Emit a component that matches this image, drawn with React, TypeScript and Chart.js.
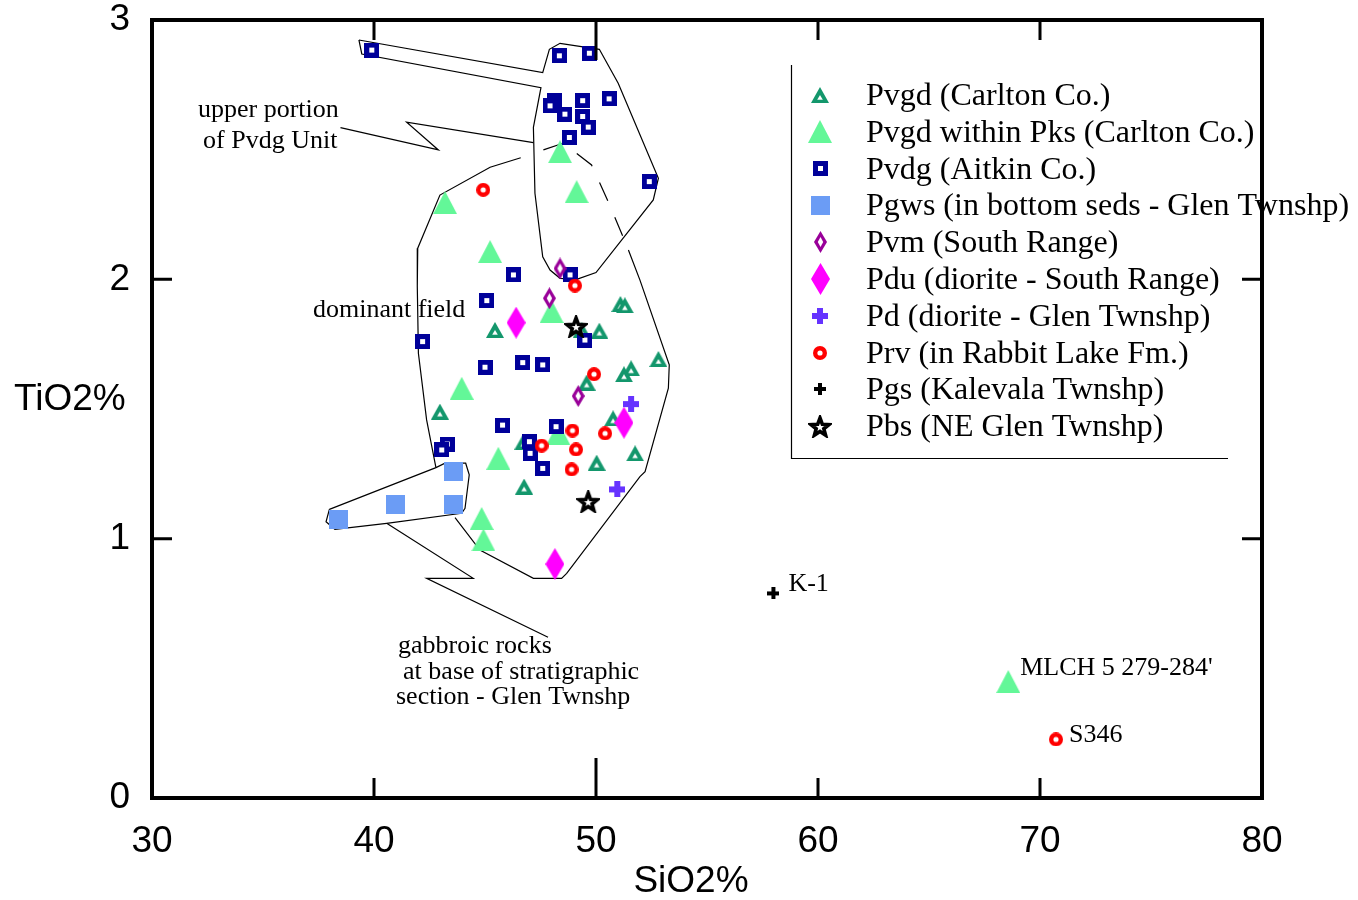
import React, { useEffect, useRef } from 'react';
import { Chart, registerables } from 'chart.js';
Chart.register(...registerables);

// ---------- data ----------
const X_TICKS = [30, 40, 50, 60, 70, 80];
const Y_TICKS = [0, 1, 2, 3];

const pvgdCarlton: [number, number][] = [
  [51.1, 1.905], [51.3, 1.9], [45.45, 1.805], [50.15, 1.802], [49.35, 1.805], [52.81, 1.693],
  [51.58, 1.657], [51.26, 1.634], [49.58, 1.602], [42.97, 1.49], [50.77, 1.464], [46.73, 1.374],
  [51.76, 1.329], [50.03, 1.293], [46.76, 1.201],
];
const pvgdPks: [number, number][] = [
  [48.38, 2.492], [49.13, 2.338], [43.2, 2.296], [45.23, 2.107], [48.0, 1.876], [43.95, 1.58],
  [48.3, 1.406], [45.6, 1.31], [44.85, 1.078], [44.93, 0.995], [68.57, 0.449],
];
const pvdg: [number, number][] = [
  [39.9, 2.884], [48.35, 2.862], [49.7, 2.872], [48.15, 2.688], [47.93, 2.669], [49.4, 2.689],
  [50.59, 2.696], [48.6, 2.637], [49.4, 2.628], [49.65, 2.587], [48.8, 2.547], [52.4, 2.377],
  [46.28, 2.017], [48.83, 2.017], [45.08, 1.918], [42.19, 1.76], [49.5, 1.766], [45.0, 1.661],
  [46.7, 1.679], [47.6, 1.67], [45.79, 1.438], [48.2, 1.432], [47.0, 1.374], [43.3, 1.365],
  [43.05, 1.342], [47.03, 1.329], [47.6, 1.271],
];
const pgws: [number, number][] = [[38.39, 1.072], [40.99, 1.13], [43.57, 1.258], [43.57, 1.13]];
const pvm: [number, number][] = [[48.38, 2.042], [47.9, 1.927], [49.2, 1.55]];
const pdu: [number, number][] = [[46.4, 1.833], [51.26, 1.447], [48.15, 0.902]];
const pd: [number, number][] = [[51.58, 1.519], [50.96, 1.19]];
const prv: [number, number][] = [
  [44.92, 2.345], [49.05, 1.976], [49.91, 1.634], [47.55, 1.359], [48.94, 1.417], [50.41, 1.406],
  [49.1, 1.344], [48.9, 1.267], [70.72, 0.226],
];
const pgs: [number, number][] = [[57.99, 0.789]];
const pbs: [number, number][] = [[49.1, 1.818], [49.65, 1.143]];

const SERIES_NAMES = [
  'Pvgd (Carlton Co.)',
  'Pvgd within Pks (Carlton Co.)',
  'Pvdg (Aitkin Co.)',
  'Pgws (in bottom seds - Glen Twnshp)',
  'Pvm (South Range)',
  'Pdu (diorite - South Range)',
  'Pd (diorite - Glen Twnshp)',
  'Prv (in Rabbit Lake Fm.)',
  'Pgs (Kalevala Twnshp)',
  'Pbs (NE Glen Twnshp)',
];

// outline polygons (data coordinates)
const upperLobe: [number, number][] = [
  [39.32, 2.923], [47.6, 2.797], [47.9, 2.887], [48.38, 2.91], [50.15, 2.887], [51.0, 2.756],
  [52.81, 2.39], [52.58, 2.306], [50.0, 2.026], [49.13, 2.0], [48.38, 2.004], [47.93, 2.036],
  [47.6, 2.087], [47.25, 2.332], [47.18, 2.586], [47.52, 2.739], [39.45, 2.869], [39.32, 2.923],
];
const upperLeader: [number, number][] = [[38.49, 2.585], [42.9, 2.499], [41.47, 2.606], [47.18, 2.527]];
const dominantSolid: [number, number][] = [
  [46.61, 2.469], [45.23, 2.432], [42.97, 2.325], [41.97, 2.12], [41.95, 1.972], [42.0, 1.715],
  [42.37, 1.458], [42.79, 1.274],
];
const dominantSolid2: [number, number][] = [
  [43.65, 1.081], [44.77, 0.956], [47.18, 0.847], [48.45, 0.847], [48.68, 0.866], [51.98, 1.239],
  [52.21, 1.258], [53.26, 1.58], [53.3, 1.67], [51.98, 1.997], [51.46, 2.113],
];
const dominantDashed: [number, number][] = [
  [47.63, 2.499], [48.53, 2.525], [49.8, 2.441], [50.5, 2.309], [51.15, 2.178], [51.46, 2.113],
];
const pgwsBox: [number, number][] = [
  [37.99, 1.113], [37.84, 1.065], [38.24, 1.036], [40.57, 1.059], [43.95, 1.098], [44.1, 1.117],
  [44.29, 1.246], [44.13, 1.291], [43.2, 1.291], [42.79, 1.274], [37.99, 1.113],
];
const gabbroLeader: [number, number][] = [[40.57, 1.059], [44.47, 0.847], [42.37, 0.847], [47.84, 0.62]];

const NOTES: { text: string; x: number; y: number }[] = [
  { text: 'upper portion', x: 32.07, y: 2.625 },
  { text: 'of Pvdg Unit', x: 32.3, y: 2.507 },
  { text: 'dominant field', x: 37.25, y: 1.855 },
  { text: 'gabbroic rocks', x: 41.08, y: 0.559 },
  { text: 'at base of stratigraphic', x: 41.31, y: 0.459 },
  { text: 'section - Glen Twnshp', x: 40.99, y: 0.362 },
];
const POINT_LABELS: { text: string; x: number; y: number }[] = [
  { text: 'K-1', x: 57.99, y: 0.789 },
  { text: "MLCH 5 279-284'", x: 68.57, y: 0.449 },
  { text: 'S346', x: 70.72, y: 0.226 },
];

// ---------- markers ----------
function mk(w: number, h: number, draw: (g: CanvasRenderingContext2D) => void) {
  const c = document.createElement('canvas');
  c.width = w;
  c.height = h;
  const g = c.getContext('2d')!;
  draw(g);
  return c;
}
function poly(g: CanvasRenderingContext2D, pts: number[][], color: string) {
  g.beginPath();
  pts.forEach((p, i) => (i ? g.lineTo(p[0], p[1]) : g.moveTo(p[0], p[1])));
  g.closePath();
  g.fillStyle = color;
  g.fill();
}
function makeMarkers() {
  const triSmall = mk(18, 16, (g) => {
    poly(g, [[9, 0], [18, 16], [0, 16]], '#13976c');
    poly(g, [[9, 8], [11.8, 12.8], [6.2, 12.8]], '#ffffff');
  });
  const triBig = mk(24, 23, (g) => poly(g, [[12, 0], [24, 23], [0, 23]], '#63f798'));
  const sqOpen = mk(15, 15, (g) => {
    g.fillStyle = '#000099';
    g.fillRect(0, 0, 15, 15);
    g.fillStyle = '#fff';
    g.fillRect(5, 5, 5, 5);
  });
  const sqFill = mk(19, 19, (g) => {
    g.fillStyle = '#6b9cf5';
    g.fillRect(0, 0, 19, 19);
  });
  const diaOpen = mk(13, 22, (g) => {
    poly(g, [[6.5, 0], [13, 11], [6.5, 22], [0, 11]], '#990099');
    poly(g, [[6.5, 6], [9.2, 11], [6.5, 16], [3.8, 11]], '#ffffff');
  });
  const diaFill = mk(19, 32, (g) => poly(g, [[9.5, 0], [19, 16], [9.5, 32], [0, 16]], '#ff00ff'));
  const plusV = mk(16, 16, (g) => {
    g.fillStyle = '#6633ff';
    g.fillRect(5, 0, 6, 16);
    g.fillRect(0, 5, 16, 6);
  });
  const circ = mk(14, 14, (g) => {
    g.beginPath();
    g.arc(7, 7, 7, 0, Math.PI * 2);
    g.fillStyle = '#ff0000';
    g.fill();
    g.beginPath();
    g.arc(7, 7, 2.6, 0, Math.PI * 2);
    g.fillStyle = '#fff';
    g.fill();
  });
  const plusK = mk(12, 12, (g) => {
    g.fillStyle = '#000';
    g.fillRect(4, 0, 4, 12);
    g.fillRect(0, 4, 12, 4);
  });
  const star = mk(24, 23, (g) => {
    const cx = 12, cy = 12.5, ro = 9.5, ri = 4;
    g.beginPath();
    for (let i = 0; i < 10; i++) {
      const r = i % 2 ? ri : ro;
      const a = -Math.PI / 2 + (i * Math.PI) / 5;
      const px = cx + r * Math.cos(a), py = cy + r * Math.sin(a);
      i ? g.lineTo(px, py) : g.moveTo(px, py);
    }
    g.closePath();
    g.fillStyle = '#fff';
    g.fill();
    g.lineWidth = 3.6;
    g.lineJoin = 'miter';
    g.strokeStyle = '#000';
    g.stroke();
  });
  return [triSmall, triBig, sqOpen, sqFill, diaOpen, diaFill, plusV, circ, plusK, star];
}

const toXY = (a: [number, number][]) => a.map(([x, y]) => ({ x, y }));

export default function App() {
  const ref = useRef<HTMLCanvasElement>(null);
  useEffect(() => {
    document.body.style.margin = '0';
    document.body.style.overflow = 'hidden';
    const markers = makeMarkers();
    const seriesData = [pvgdCarlton, pvgdPks, pvdg, pgws, pvm, pdu, pd, prv, pgs, pbs];
    const drawOrder = [9, 10, 7, 8, 6, 5, 4, 3, 2, 1];
    const markerSets: any[] = seriesData.map((d, i) => ({
      label: SERIES_NAMES[i],
      data: toXY(d),
      pointStyle: markers[i],
      pointRadius: 6,
      pointHoverRadius: 6,
      showLine: false,
      order: drawOrder[i],
    }));
    const lineSet = (d: [number, number][], dash: number[] = []) => ({
      data: toXY(d),
      showLine: true,
      pointRadius: 0,
      pointHoverRadius: 0,
      borderColor: '#000',
      borderWidth: 1.2,
      borderDash: dash,
      fill: false,
      tension: 0,
      order: 20,
    });
    const lineSets = [
      lineSet(upperLobe),
      lineSet(upperLeader),
      lineSet(dominantSolid),
      lineSet(dominantSolid2),
      lineSet(dominantDashed, [20, 18]),
      lineSet(pgwsBox),
      lineSet(gabbroLeader),
    ];

    const SANS = '"Liberation Sans", Arial, sans-serif';
    const SERIF = '"Liberation Serif", "Times New Roman", serif';

    const deco = {
      id: 'deco',
      afterDraw(chart: any) {
        const { ctx, chartArea: a, scales } = chart;
        const xs = scales.x, ys = scales.y;
        ctx.save();
        // frame
        ctx.strokeStyle = '#000';
        ctx.lineWidth = 4;
        ctx.strokeRect(a.left, a.top, a.right - a.left, a.bottom - a.top);
        // inner ticks
        ctx.lineWidth = 3;
        X_TICKS.slice(1, -1).forEach((v) => {
          const px = xs.getPixelForValue(v);
          const len = v === 50 ? 40 : 20;
          ctx.beginPath();
          ctx.moveTo(px, a.bottom);
          ctx.lineTo(px, a.bottom - len);
          ctx.moveTo(px, a.top);
          ctx.lineTo(px, a.top + len);
          ctx.stroke();
        });
        Y_TICKS.slice(1, -1).forEach((v) => {
          const py = ys.getPixelForValue(v);
          ctx.beginPath();
          ctx.moveTo(a.left, py);
          ctx.lineTo(a.left + 20, py);
          ctx.moveTo(a.right, py);
          ctx.lineTo(a.right - 20, py);
          ctx.stroke();
        });
        // axis titles
        ctx.fillStyle = '#000';
        ctx.font = `37px ${SANS}`;
        ctx.textBaseline = 'middle';
        ctx.textAlign = 'center';
        ctx.fillText('SiO2%', 691, 882);
        ctx.textAlign = 'left';
        ctx.fillText('TiO2%', 14, 400);
        // annotations
        ctx.font = `26px ${SERIF}`;
        ctx.textBaseline = 'alphabetic';
        NOTES.forEach((n) => ctx.fillText(n.text, xs.getPixelForValue(n.x), ys.getPixelForValue(n.y)));
        const offs = [[15, -2], [12, -7], [13, 3]];
        POINT_LABELS.forEach((p, i) =>
          ctx.fillText(p.text, xs.getPixelForValue(p.x) + offs[i][0], ys.getPixelForValue(p.y) + offs[i][1])
        );
        // legend
        ctx.lineWidth = 1.2;
        ctx.beginPath();
        ctx.moveTo(791.5, 65);
        ctx.lineTo(791.5, 458.5);
        ctx.lineTo(1228, 458.5);
        ctx.stroke();
        ctx.font = `32px ${SERIF}`;
        SERIES_NAMES.forEach((name, i) => {
          const base = 105 + i * 36.8;
          const m = markers[i];
          const cy = base - 10;
          ctx.drawImage(m, Math.round(820 - m.width / 2), Math.round(cy - m.height / 2));
          ctx.fillText(name, 866, base);
        });
        ctx.restore();
      },
    };

    const chart = new Chart(ref.current!, {
      type: 'scatter',
      data: { datasets: [...markerSets, ...lineSets] },
      options: {
        animation: false,
        responsive: false,
        events: [],
        layout: { padding: { left: 0, top: 20, right: 96, bottom: 0 } },
        plugins: { legend: { display: false }, tooltip: { enabled: false } },
        scales: {
          x: {
            type: 'linear',
            min: 30,
            max: 80,
            afterBuildTicks: (s: any) => {
              s.ticks = X_TICKS.map((v) => ({ value: v }));
            },
            afterFit: (s: any) => {
              s.height = 102;
              s.paddingLeft = 0;
              s.paddingRight = 0;
            },
            grid: { display: false, drawTicks: false },
            border: { display: false },
            ticks: { color: '#000', font: { family: SANS, size: 37 }, padding: 22, maxRotation: 0, autoSkip: false },
          },
          y: {
            type: 'linear',
            min: 0,
            max: 3,
            afterBuildTicks: (s: any) => {
              s.ticks = Y_TICKS.map((v) => ({ value: v }));
            },
            afterFit: (s: any) => {
              s.width = 152;
              s.paddingTop = 0;
              s.paddingBottom = 0;
            },
            grid: { display: false, drawTicks: false },
            border: { display: false },
            ticks: { color: '#000', font: { family: SANS, size: 37 }, padding: 22, autoSkip: false },
          },
        },
      } as any,
      plugins: [deco],
    });
    return () => chart.destroy();
  }, []);
  return (
    <div style={{ width: 1358, height: 900, position: 'relative' }}>
      <canvas ref={ref} width={1358} height={900} style={{ display: 'block' }} />
    </div>
  );
}
